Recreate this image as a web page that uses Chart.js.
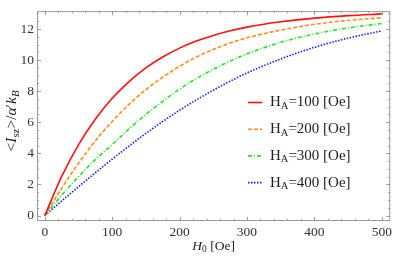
<!DOCTYPE html>
<html>
<head>
<meta charset="utf-8">
<script src="https://cdn.jsdelivr.net/npm/chart.js@4/dist/chart.umd.min.js"></script>
<style>
  html, body { margin: 0; padding: 0; background: #fff; }
  canvas { display: block; }
</style>
</head>
<body>
<canvas id="hChart" width="395" height="259"></canvas>
<script>
// H0 values (Oe) and the four curves
const h0Values = [0, 25, 50, 75, 100, 125, 150, 175, 200, 225, 250, 275, 300, 350, 400, 450, 500];
const ha100 = [0, 2.5, 4.55, 6.2, 7.54, 8.62, 9.5, 10.2, 10.77, 11.22, 11.58, 11.88, 12.12, 12.46, 12.7, 12.86, 12.97];
const ha200 = [0, 1.75, 3.35, 4.8, 6.05, 7.15, 8.1, 8.9, 9.6, 10.2, 10.68, 11.1, 11.43, 11.93, 12.3, 12.55, 12.72];
const ha300 = [0, 1.3, 2.5, 3.6, 4.56, 5.57, 6.5, 7.35, 8.13, 8.82, 9.41, 9.94, 10.4, 11.14, 11.68, 12.07, 12.35];
const ha400 = [0, 0.93, 1.85, 2.75, 3.63, 4.47, 5.28, 6.05, 6.77, 7.44, 8.06, 8.64, 9.17, 10.07, 10.82, 11.41, 11.88];
const seriesNames = ['100', '200', '300', '400'];

const xTicks = [0, 100, 200, 300, 400, 500];
const yTicks = [0, 2, 4, 6, 8, 10, 12];

const serif = "'Liberation Serif', 'DejaVu Serif', serif";
const colors = ['#ff1010', '#ff8c1a', '#22e622', '#1a1aff'];
const dashes = [[], [4, 2], [4, 2, 1, 2], [1.5, 1.5]];

function toPoints(vals) {
    return h0Values.map((x, i) => ({ x: x, y: vals[i] }));
}

// text pieces with italics / subscripts
function richWidth(ctx, parts, size) {
    let w = 0;
    parts.forEach(p => {
        const s = p.sub ? size * 0.7 : size;
        ctx.font = (p.it ? 'italic ' : '') + s + 'px ' + serif;
        w += ctx.measureText(p.t).width;
    });
    return w;
}
function drawRich(ctx, parts, x, y, size) {
    parts.forEach(p => {
        const s = p.sub ? size * 0.7 : size;
        ctx.font = (p.it ? 'italic ' : '') + s + 'px ' + serif;
        ctx.fillText(p.t, x, y + (p.sub ? size * 0.25 : 0));
        x += ctx.measureText(p.t).width;
    });
}

const framePlugin = {
    id: 'frame',
    afterDraw(chart) {
        const ctx = chart.ctx;
        const a = chart.chartArea;
        const xs = chart.scales.x, ys = chart.scales.y;
        ctx.save();
        ctx.strokeStyle = '#9a9a9a';
        ctx.lineWidth = 1;
        ctx.strokeRect(a.left + 0.5, a.top + 0.5, a.right - a.left - 1, a.bottom - a.top - 1);

        // ticks pointing inwards on all four sides
        ctx.beginPath();
        for (let v = -20; v <= 520; v += 20) {
            if (v < xs.min || v > xs.max) continue;
            const px = Math.round(xs.getPixelForValue(v)) + 0.5;
            const len = v % 100 === 0 ? 4 : 2;
            ctx.moveTo(px, a.bottom); ctx.lineTo(px, a.bottom - len);
            ctx.moveTo(px, a.top); ctx.lineTo(px, a.top + len);
        }
        for (let v = 0; v <= 13.5; v += 0.5) {
            if (v < ys.min || v > ys.max) continue;
            const py = Math.round(ys.getPixelForValue(v)) + 0.5;
            const len = v % 2 === 0 ? 4 : 2;
            ctx.moveTo(a.left, py); ctx.lineTo(a.left + len, py);
            ctx.moveTo(a.right, py); ctx.lineTo(a.right - len, py);
        }
        ctx.stroke();

        // legend
        ctx.textBaseline = 'middle';
        ctx.fillStyle = '#222';
        seriesNames.forEach((n, i) => {
            const y = 102.5 + i * 26.7;
            ctx.strokeStyle = colors[i];
            ctx.lineWidth = 1.6;
            ctx.setLineDash(dashes[i]);
            ctx.beginPath();
            ctx.moveTo(248, y); ctx.lineTo(262, y);
            ctx.stroke();
            ctx.setLineDash([]);
            drawRich(ctx, [{ t: 'H' }, { t: 'A', sub: true }, { t: '=' + n + ' [Oe]' }], 270, y, 15);
        });

        // axis titles
        const xt = [{ t: 'H', it: true }, { t: '0', sub: true }, { t: ' [Oe]' }];
        const xw = richWidth(ctx, xt, 13.5);
        drawRich(ctx, xt, (a.left + a.right) / 2 - xw / 2, 246, 13.5);

        const yt = [{ t: '<' }, { t: 'I', it: true }, { t: 'sz', sub: true }, { t: '>/' },
                    { t: 'α', it: true }, { t: '\u2032' }, { t: 'k', it: true }, { t: 'B', it: true, sub: true }];
        ctx.translate(12, 121);
        ctx.rotate(-Math.PI / 2);
        const yw = richWidth(ctx, yt, 15.5);
        drawRich(ctx, yt, -yw / 2, 0, 15.5);
        ctx.restore();
    }
};

new Chart(document.getElementById('hChart'), {
    type: 'line',
    data: {
        datasets: [ha100, ha200, ha300, ha400].map((vals, i) => ({
            label: 'HA=' + seriesNames[i] + ' [Oe]',
            data: toPoints(vals),
            borderColor: colors[i],
            borderWidth: 1.6,
            borderDash: dashes[i],
            pointRadius: 0,
            fill: false,
            cubicInterpolationMode: 'monotone'
        }))
    },
    options: {
        responsive: false,
        animation: false,
        devicePixelRatio: 1,
        layout: { padding: { top: 2, right: 3, left: 0, bottom: 0 } },
        plugins: { legend: { display: false }, tooltip: { enabled: false } },
        scales: {
            x: {
                type: 'linear',
                min: -11.5,
                max: 512.5,
                grid: { display: false, drawTicks: false },
                border: { display: false },
                afterBuildTicks: s => { s.ticks = xTicks.map(v => ({ value: v })); },
                afterFit: s => { s.height = 38; },
                ticks: { font: { family: serif, size: 13.5 }, color: '#333', padding: 3 }
            },
            y: {
                type: 'linear',
                min: -0.35,
                max: 13.15,
                grid: { display: false, drawTicks: false },
                border: { display: false },
                afterBuildTicks: s => { s.ticks = yTicks.map(v => ({ value: v })); },
                afterFit: s => { s.width = 37; },
                ticks: { font: { family: serif, size: 13.5 }, color: '#333', padding: 3 }
            }
        }
    },
    plugins: [framePlugin]
});
</script>
</body>
</html>
